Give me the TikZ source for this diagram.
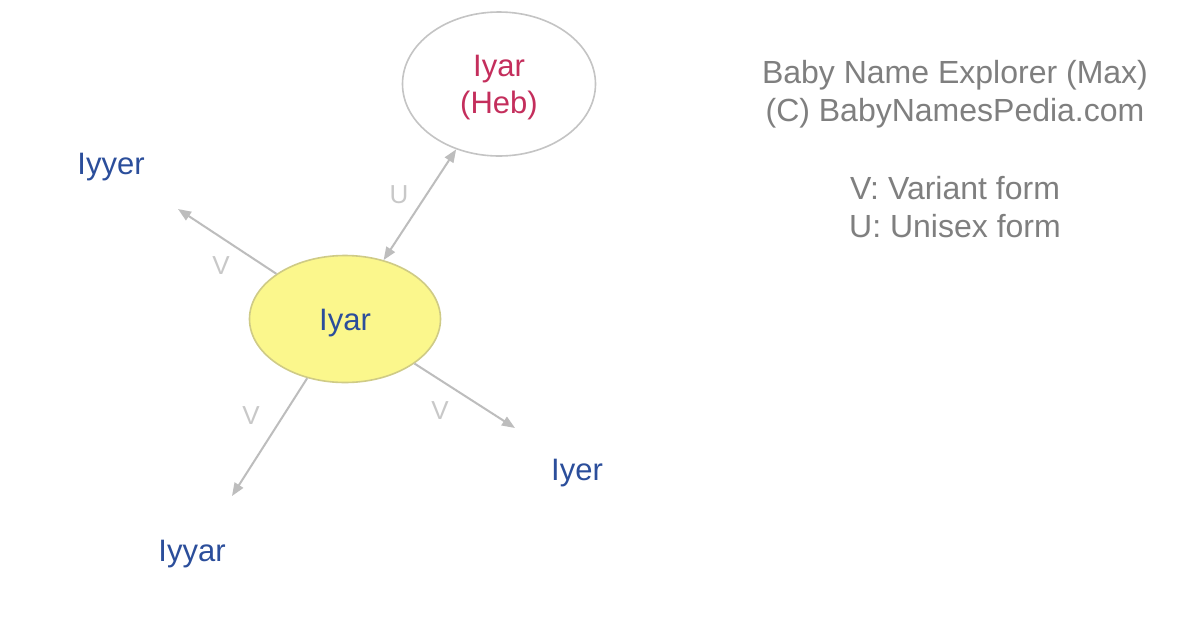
\documentclass[tikz,border=0pt]{standalone}
\usepackage{fontspec}
\setmainfont{Liberation Sans}
\usetikzlibrary{shapes.geometric,arrows.meta}
\definecolor{namecol}{HTML}{2B4E9B}
\definecolor{hebcol}{HTML}{C42E5C}
\definecolor{edgecol}{HTML}{BDBDBD}
\definecolor{labcol}{HTML}{C8C8C8}
\definecolor{legcol}{HTML}{7F7F7F}
\definecolor{mainfill}{HTML}{FBF78C}
\definecolor{mainline}{HTML}{CFCB86}
\definecolor{hebline}{HTML}{C4C4C4}
\tikzset{
  nametext/.style={text=namecol, font=\fontsize{15.5}{18.5}\selectfont, inner sep=0pt},
  mainnode/.style={ellipse, draw=mainline, fill=mainfill, line width=0.8pt,
    minimum width=95.5pt, minimum height=63.5pt, inner sep=0pt},
  hebnode/.style={ellipse, draw=hebline, fill=white, line width=0.8pt,
    minimum width=96.5pt, minimum height=72pt, inner sep=0pt},
  maintext/.style={text=namecol, inner sep=0pt, yshift=-2pt, font=\fontsize{15.5}{18.5}\selectfont},
  hebtext/.style={text=hebcol, inner sep=0pt, yshift=-2pt, align=center, font=\fontsize{15.5}{18.5}\selectfont},
  conn/.style={draw=edgecol, line width=1pt},
  tipend/.style={-{Triangle[length=6.5pt,width=5pt]}},
  bothend/.style={{Triangle[length=6.5pt,width=5pt]}-{Triangle[length=6.5pt,width=5pt]}},
  edgelab/.style={text=labcol, font=\fontsize{13}{15}\selectfont, inner sep=0pt},
  legend/.style={text=legcol, align=center, font=\fontsize{16}{19}\selectfont, inner sep=0pt}
}
\begin{document}
\begin{tikzpicture}[x=0.5pt,y=-0.5pt]
\useasboundingbox[fill=white] (0,0) rectangle (1196,628);
% nodes
\node[mainnode, label={[maintext,name=maintxt]center:Iyar}] (main) at (345,319) {};
\node[hebnode, label={[hebtext,name=hebtxt]center:{Iyar\\(Heb)}}] (heb) at (499,84) {};
\node[nametext] (iyyer) at (111,167) {Iyyer};
\node[nametext] (iyyar) at (192,554) {Iyyar};
\node[nametext] (iyer) at (577,473) {Iyer};
% arrow tips
\coordinate (tipyyer) at (178,209);
\coordinate (tipyyar) at (232,496);
\coordinate (tipyer) at (515,428);
% connectors
\draw[conn,bothend] (main) -- (heb);
\draw[conn,tipend] (main) -- (tipyyer);
\draw[conn,tipend] (main) -- (tipyyar);
\draw[conn,tipend] (main) -- (tipyer);
% connector labels
\node[edgelab] (labU) at (399,195) {U};
\node[edgelab] (labA) at (221,266) {V};
\node[edgelab] (labB) at (251,416) {V};
\node[edgelab] (labC) at (440,411) {V};
% legend
\node[legend] (title) at (955,94) {Baby Name Explorer (Max)\\(C) BabyNamesPedia.com};
\node[legend] (key) at (955,207) {V: Variant form\\U: Unisex form};
\end{tikzpicture}
\end{document}
